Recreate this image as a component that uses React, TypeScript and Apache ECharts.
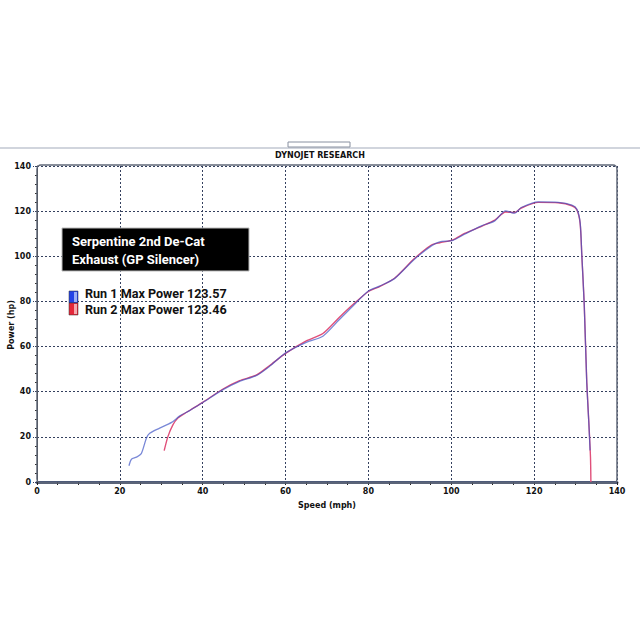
import React, { useEffect, useRef } from "react";
import * as echarts from "echarts";

// Run 1 (blue) : [speed mph, power hp]
const run1Speed = [22.2, 22.8, 24.0, 25.2, 26.4, 27.2, 29.6, 32.5, 34.5, 37.0, 40.1, 44.9, 48.9, 52.9, 56.1, 60.0, 65.0, 69.0, 73.0, 76.2, 80.0, 82.7, 86.3, 91.1, 95.2, 97.2, 100.4, 103.2, 107.3, 110.5, 113.1, 115.3, 116.9, 121.0, 125.8, 129.1, 130.3, 131.1, 131.5, 132.1, 132.7, 133.2, 133.5];
const run1Power = [7.2, 10.1, 11.0, 12.7, 19.4, 21.6, 23.9, 26.4, 29.3, 31.8, 35.3, 40.9, 44.6, 47.1, 51.2, 57.2, 61.9, 64.6, 72.0, 77.9, 84.6, 86.8, 90.1, 98.7, 104.6, 106.4, 107.1, 109.8, 113.5, 115.7, 120.1, 119.1, 121.6, 124.1, 123.9, 122.7, 120.9, 115.0, 101.0, 77.9, 43.9, 26.1, 14.0];

// Run 2 (red)
const run2Speed = [30.7, 31.6, 32.8, 34.0, 35.5, 37.0, 40.1, 44.9, 48.9, 52.9, 56.1, 60.0, 65.0, 69.0, 73.0, 76.2, 80.0, 82.7, 86.3, 91.1, 95.2, 97.2, 100.4, 103.2, 107.3, 110.5, 113.1, 115.3, 116.9, 121.0, 125.8, 129.1, 130.3, 131.1, 131.5, 132.1, 132.7, 133.2, 133.6, 133.7];
const run2Power = [13.9, 20.1, 25.3, 28.3, 30.2, 31.9, 35.4, 41.2, 44.9, 47.3, 51.5, 57.0, 62.5, 65.8, 73.0, 78.5, 84.4, 86.6, 90.3, 99.0, 105.0, 106.0, 107.3, 110.1, 113.3, 116.0, 119.6, 119.4, 121.4, 123.9, 123.7, 122.4, 120.6, 114.6, 100.5, 78.5, 44.5, 26.5, 11.0, 0.0];

const titleText = "DYNOJET RESEARCH";
const yAxisTitle = "Power (hp)";
const boxLines = ["Serpentine 2nd De-Cat", "Exhaust (GP Silencer)"];
const legendLines = ["Run 1 Max Power 123.57", "Run 2 Max Power 123.46"];

export default function App() {
  const ref = useRef<HTMLDivElement>(null);
  useEffect(() => {
    if (!ref.current) return;
    const chart = echarts.init(ref.current, null, { renderer: "svg" });
    const axisLabel = {
      fontFamily: "DejaVu Sans",
      fontWeight: "bold" as const,
      fontSize: 8,
      color: "#111",
    };
    chart.setOption({
      animation: false,
      backgroundColor: "#ffffff",
      grid: { left: 37, right: 23, top: 166, bottom: 158, containLabel: false, outerBoundsMode: "none" },
      xAxis: {
        type: "value",
        min: 0,
        max: 140,
        interval: 20,
        name: "Speed (mph)",
        nameLocation: "middle",
        nameGap: 19,
        nameTextStyle: { ...axisLabel },
        axisLine: { show: true, lineStyle: { color: "#4d5a78", width: 3 } },
        axisTick: { show: true, length: 3, lineStyle: { color: "#222" } },
        minorTick: { show: true, splitNumber: 4, length: 3, lineStyle: { color: "#222" } },
        axisLabel: { ...axisLabel, margin: 5 },
        splitLine: { show: true, lineStyle: { color: "#34405e", type: [2, 2], width: 1 } },
      },
      yAxis: {
        type: "value",
        min: 0,
        max: 140,
        interval: 20,
        axisLine: { show: true, lineStyle: { color: "#333", width: 1 } },
        axisTick: { show: true, length: 4, lineStyle: { color: "#34405e", type: [2, 1] } },
        minorTick: { show: true, splitNumber: 5, length: 2, lineStyle: { color: "#333" } },
        axisLabel: { ...axisLabel, margin: 6 },
        splitLine: { show: true, lineStyle: { color: "#34405e", type: [2, 2], width: 1 } },
      },
      series: [
        {
          name: "Run 2",
          type: "line",
          showSymbol: false,
          smooth: 0.25,
          data: run2Speed.map((s, i) => [s, run2Power[i]]),
          lineStyle: { color: "#e0507a", width: 1.4, opacity: 1 },
          z: 3,
        },
        {
          name: "Run 1",
          type: "line",
          showSymbol: false,
          smooth: 0.25,
          data: run1Speed.map((s, i) => [s, run1Power[i]]),
          lineStyle: { color: "#3a4fc4", width: 1.3, opacity: 0.68 },
          z: 4,
        },
      ],
      graphic: [
        { type: "line", shape: { x1: 0, y1: 148, x2: 640, y2: 148 }, style: { stroke: "#a4acbc", lineWidth: 1.2 }, z: 1 },
        { type: "rect", shape: { x: 288, y: 142, width: 62, height: 5 }, style: { fill: "#fff", stroke: "#8890a0", lineWidth: 1 }, z: 2 },
        {
          type: "text",
          x: 320,
          y: 155,
          style: {
            text: titleText,
            fontFamily: "DejaVu Sans",
            fontWeight: "bold",
            fontSize: 8,
            fill: "#111",
            align: "center",
            verticalAlign: "middle",
          },
        },
        {
          type: "text",
          x: 11,
          y: 325,
          rotation: Math.PI / 2,
          style: {
            text: yAxisTitle,
            fontFamily: "DejaVu Sans",
            fontWeight: "bold",
            fontSize: 8,
            fill: "#111",
            align: "center",
            verticalAlign: "middle",
          },
        },
        { type: "rect", shape: { x: 37, y: 165, width: 580, height: 318, r: 4 }, style: { fill: "none", stroke: "#606878", lineWidth: 1.5 }, z: 5 },
        { type: "rect", shape: { x: 62, y: 228, width: 187, height: 43 }, style: { fill: "#000", stroke: "#bbb", lineWidth: 1 }, z: 10 },
        {
          type: "text",
          x: 72,
          y: 241.5,
          z: 11,
          style: { text: boxLines[0], fontFamily: "Roboto", fontWeight: "bold", fontSize: 13, fill: "#fff", verticalAlign: "middle" },
        },
        {
          type: "text",
          x: 72,
          y: 259,
          z: 11,
          style: { text: boxLines[1], fontFamily: "Roboto", fontWeight: "bold", fontSize: 13, fill: "#fff", verticalAlign: "middle" },
        },
        { type: "rect", shape: { x: 69, y: 291, width: 9, height: 12 }, style: { fill: "#2444e6", stroke: "#333", lineWidth: 0.5 }, z: 10 },
        { type: "rect", shape: { x: 74, y: 292, width: 3, height: 10 }, style: { fill: "#9cb0f6" }, z: 11 },
        { type: "rect", shape: { x: 69, y: 303, width: 9, height: 12 }, style: { fill: "#e5283a", stroke: "#333", lineWidth: 0.5 }, z: 10 },
        { type: "rect", shape: { x: 74, y: 304, width: 3, height: 10 }, style: { fill: "#f6a8ae" }, z: 11 },
        {
          type: "text",
          x: 85,
          y: 293,
          z: 11,
          style: { text: legendLines[0], fontFamily: "Roboto", fontWeight: "bold", fontSize: 12.6, fill: "#111", verticalAlign: "middle" },
        },
        {
          type: "text",
          x: 85,
          y: 309.5,
          z: 11,
          style: { text: legendLines[1], fontFamily: "Roboto", fontWeight: "bold", fontSize: 12.6, fill: "#111", verticalAlign: "middle" },
        },
      ],
    });
    return () => chart.dispose();
  }, []);
  return (
    <div
      ref={ref}
      style={{ position: "fixed", left: 0, top: 0, width: 640, height: 640, background: "#fff" }}
    />
  );
}
